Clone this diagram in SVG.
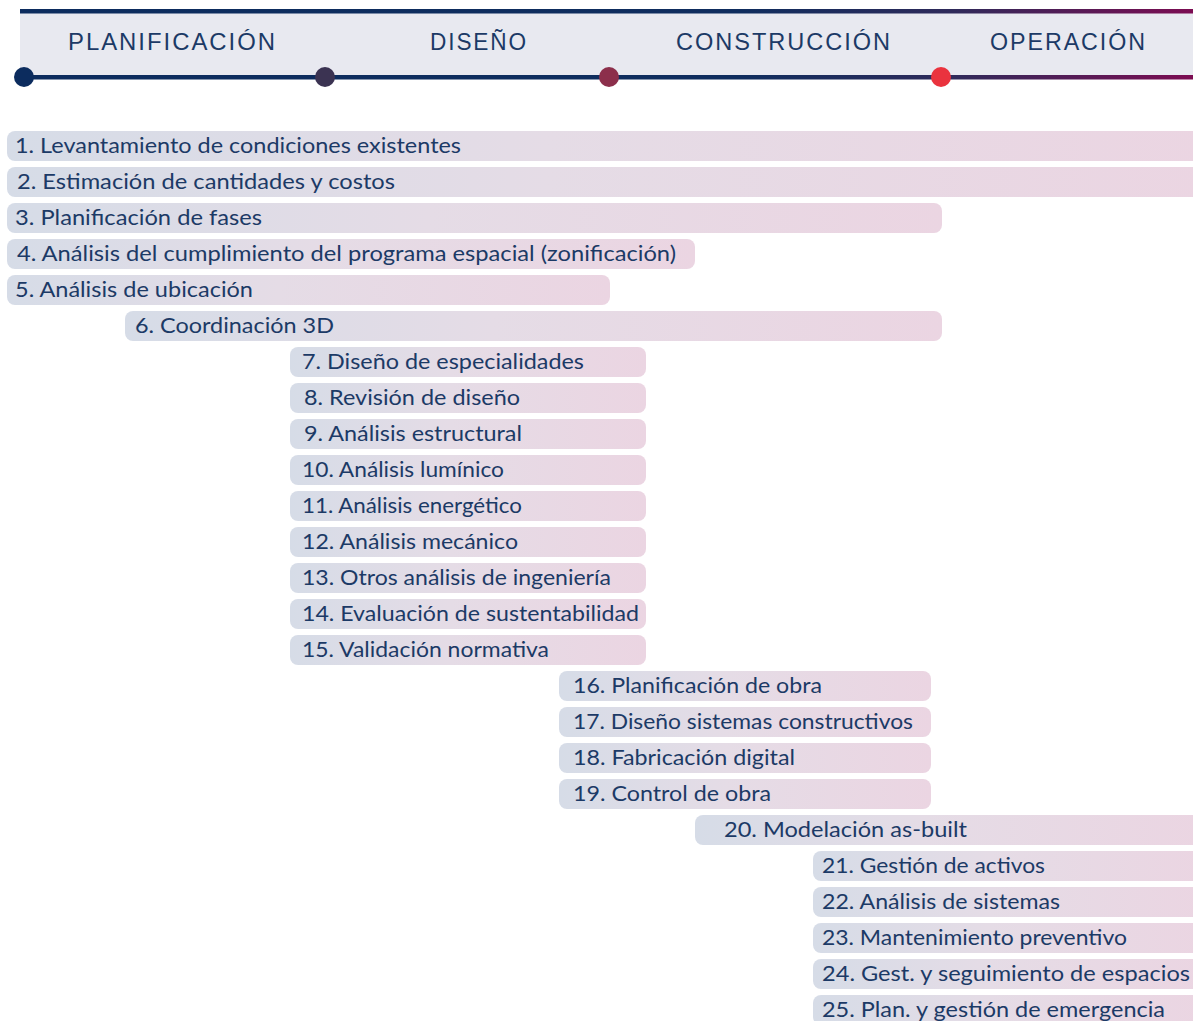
<svg xmlns="http://www.w3.org/2000/svg" width="1193" height="1021" viewBox="0 0 1193 1021">
<defs>
<linearGradient id="bar" x1="0" y1="0" x2="1" y2="0">
<stop offset="0" stop-color="#d6dce7"/>
<stop offset="0.45" stop-color="#e5dce6"/>
<stop offset="1" stop-color="#ebd5e2"/>
</linearGradient>
<linearGradient id="line" gradientUnits="userSpaceOnUse" x1="0" y1="0" x2="1193" y2="0">
<stop offset="0" stop-color="#0c2c5e"/>
<stop offset="0.62" stop-color="#0f2d5e"/>
<stop offset="0.8" stop-color="#2f2a5a"/>
<stop offset="1" stop-color="#7c0c52"/>
</linearGradient>
<style>
.bar{fill:url(#bar)}
.t{font-family:"Lato","Liberation Sans",sans-serif;font-size:21.5px;fill:#1c3a66}
.h{font-family:"Liberation Sans",sans-serif;font-size:24px;fill:#1c3a66;letter-spacing:2px}
</style>
</defs>
<g id="header">
<rect x="20" y="12" width="1173" height="65" fill="#e8e9f0"/>
<rect x="20" y="9" width="1173" height="4.5" fill="url(#line)"/>
<rect x="20" y="75" width="1173" height="4.5" fill="url(#line)"/>
<text class="h" x="68" y="50" textLength="209" lengthAdjust="spacingAndGlyphs">PLANIFICACIÓN</text>
<text class="h" x="430" y="50" textLength="98" lengthAdjust="spacingAndGlyphs">DISEÑO</text>
<text class="h" x="676" y="50" textLength="216" lengthAdjust="spacingAndGlyphs">CONSTRUCCIÓN</text>
<text class="h" x="990" y="50" textLength="157" lengthAdjust="spacingAndGlyphs">OPERACIÓN</text>
<circle cx="24" cy="77" r="10" fill="#0c2c5e"/>
<circle cx="325" cy="77" r="10" fill="#3b3352"/>
<circle cx="609" cy="77" r="10" fill="#8c2f4b"/>
<circle cx="941" cy="77" r="10" fill="#ea333e"/>
</g>
<g id="bars">
<g id="n1"><rect class="bar" x="7" y="131" width="1200" height="30" rx="8"/><text class="t" x="15" y="153" textLength="446" lengthAdjust="spacingAndGlyphs">1. Levantamiento de condiciones existentes</text></g>
<g id="n2"><rect class="bar" x="7" y="167" width="1200" height="30" rx="8"/><text class="t" x="17" y="189" textLength="378" lengthAdjust="spacingAndGlyphs">2. Estimación de cantidades y costos</text></g>
<g id="n3"><rect class="bar" x="7" y="203" width="935" height="30" rx="8"/><text class="t" x="15" y="225" textLength="247" lengthAdjust="spacingAndGlyphs">3. Planificación de fases</text></g>
<g id="n4"><rect class="bar" x="7" y="239" width="688" height="30" rx="8"/><text class="t" x="17" y="261" textLength="659" lengthAdjust="spacingAndGlyphs">4. Análisis del cumplimiento del programa espacial (zonificación)</text></g>
<g id="n5"><rect class="bar" x="7" y="275" width="603" height="30" rx="8"/><text class="t" x="15" y="297" textLength="238" lengthAdjust="spacingAndGlyphs">5. Análisis de ubicación</text></g>
<g id="n6"><rect class="bar" x="125" y="311" width="817" height="30" rx="8"/><text class="t" x="135" y="333" textLength="199" lengthAdjust="spacingAndGlyphs">6. Coordinación 3D</text></g>
<g id="n7"><rect class="bar" x="290" y="347" width="356" height="30" rx="8"/><text class="t" x="302" y="369" textLength="282" lengthAdjust="spacingAndGlyphs">7. Diseño de especialidades</text></g>
<g id="n8"><rect class="bar" x="290" y="383" width="356" height="30" rx="8"/><text class="t" x="304" y="405" textLength="216" lengthAdjust="spacingAndGlyphs">8. Revisión de diseño</text></g>
<g id="n9"><rect class="bar" x="290" y="419" width="356" height="30" rx="8"/><text class="t" x="304" y="441" textLength="218" lengthAdjust="spacingAndGlyphs">9. Análisis estructural</text></g>
<g id="n10"><rect class="bar" x="290" y="455" width="356" height="30" rx="8"/><text class="t" x="302" y="477" textLength="202" lengthAdjust="spacingAndGlyphs">10. Análisis lumínico</text></g>
<g id="n11"><rect class="bar" x="290" y="491" width="356" height="30" rx="8"/><text class="t" x="302" y="513" textLength="220" lengthAdjust="spacingAndGlyphs">11. Análisis energético</text></g>
<g id="n12"><rect class="bar" x="290" y="527" width="356" height="30" rx="8"/><text class="t" x="302" y="549" textLength="216" lengthAdjust="spacingAndGlyphs">12. Análisis mecánico</text></g>
<g id="n13"><rect class="bar" x="290" y="563" width="356" height="30" rx="8"/><text class="t" x="302" y="585" textLength="309" lengthAdjust="spacingAndGlyphs">13. Otros análisis de ingeniería</text></g>
<g id="n14"><rect class="bar" x="290" y="599" width="356" height="30" rx="8"/><text class="t" x="302" y="621" textLength="337" lengthAdjust="spacingAndGlyphs">14. Evaluación de sustentabilidad</text></g>
<g id="n15"><rect class="bar" x="290" y="635" width="356" height="30" rx="8"/><text class="t" x="302" y="657" textLength="247" lengthAdjust="spacingAndGlyphs">15. Validación normativa</text></g>
<g id="n16"><rect class="bar" x="559" y="671" width="372" height="30" rx="8"/><text class="t" x="573" y="693" textLength="249" lengthAdjust="spacingAndGlyphs">16. Planificación de obra</text></g>
<g id="n17"><rect class="bar" x="559" y="707" width="372" height="30" rx="8"/><text class="t" x="573" y="729" textLength="340" lengthAdjust="spacingAndGlyphs">17. Diseño sistemas constructivos</text></g>
<g id="n18"><rect class="bar" x="559" y="743" width="372" height="30" rx="8"/><text class="t" x="573" y="765" textLength="222" lengthAdjust="spacingAndGlyphs">18. Fabricación digital</text></g>
<g id="n19"><rect class="bar" x="559" y="779" width="372" height="30" rx="8"/><text class="t" x="573" y="801" textLength="198" lengthAdjust="spacingAndGlyphs">19. Control de obra</text></g>
<g id="n20"><rect class="bar" x="695" y="815" width="510" height="30" rx="8"/><text class="t" x="724" y="837" textLength="243" lengthAdjust="spacingAndGlyphs">20. Modelación as-built</text></g>
<g id="n21"><rect class="bar" x="813" y="851" width="392" height="30" rx="8"/><text class="t" x="822" y="873" textLength="223" lengthAdjust="spacingAndGlyphs">21. Gestión de activos</text></g>
<g id="n22"><rect class="bar" x="813" y="887" width="392" height="30" rx="8"/><text class="t" x="822" y="909" textLength="238" lengthAdjust="spacingAndGlyphs">22. Análisis de sistemas</text></g>
<g id="n23"><rect class="bar" x="813" y="923" width="392" height="30" rx="8"/><text class="t" x="822" y="945" textLength="305" lengthAdjust="spacingAndGlyphs">23. Mantenimiento preventivo</text></g>
<g id="n24"><rect class="bar" x="813" y="959" width="392" height="30" rx="8"/><text class="t" x="822" y="981" textLength="368" lengthAdjust="spacingAndGlyphs">24. Gest. y seguimiento de espacios</text></g>
<g id="n25"><rect class="bar" x="813" y="995" width="392" height="30" rx="8"/><text class="t" x="822" y="1017" textLength="343" lengthAdjust="spacingAndGlyphs">25. Plan. y gestión de emergencia</text></g>
</g>
<g id="connectors"/>
</svg>
